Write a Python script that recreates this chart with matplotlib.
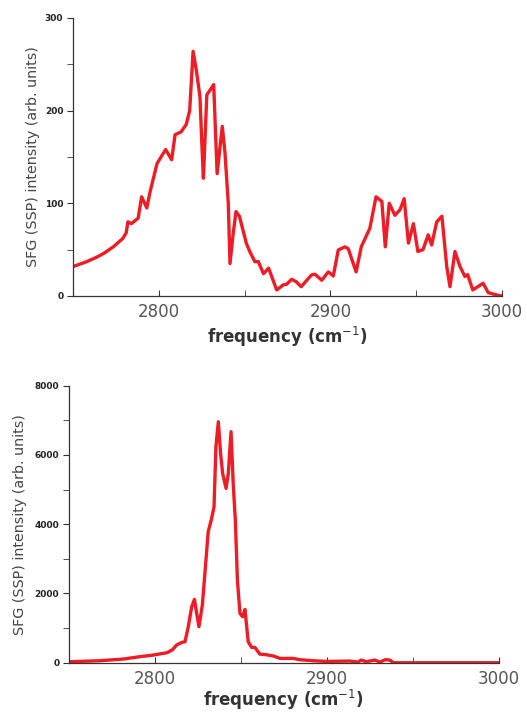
import numpy as np
import matplotlib; matplotlib.use("Agg")
import matplotlib.pyplot as plt
from matplotlib.ticker import MultipleLocator

# 上图: SSP SFG 光谱 (读图估值)
freq_a = [2750, 2758, 2764, 2768, 2773.5, 2779, 2781, 2782, 2784, 2788, 2790, 2793, 2795, 2799,
          2804, 2807.5, 2809.5, 2813, 2816, 2818, 2820, 2822, 2824, 2825, 2826, 2828, 2832,
          2834, 2837, 2838.6, 2840.5, 2841.5, 2843.4, 2845, 2847, 2851, 2853, 2856, 2858,
          2861, 2864, 2868.7, 2872.6, 2874.5, 2877.4, 2880, 2883, 2889, 2891, 2895, 2898.8,
          2901.7, 2904.6, 2908.5, 2910.4, 2915, 2918, 2923, 2926.6, 2930, 2932, 2934.3,
          2937.6, 2940.6, 2943, 2945.5, 2948.4, 2951, 2954, 2957, 2959, 2962, 2965, 2967.8,
          2969.7, 2972.6, 2975.5, 2978.4, 2980, 2983, 2989, 2992, 2997, 3000]
int_a = [31.7, 37, 42, 46, 53, 62, 68, 80, 78, 84, 107, 95, 113, 143,
         158, 147, 174, 177, 185, 200, 264, 242, 215, 168, 127, 217, 228,
         132, 183, 154, 100, 35, 68, 91, 86, 57, 48, 37, 37,
         24, 30, 6.5, 12, 12.6, 18, 15.5, 10, 22.7, 23.4, 17, 26,
         21.6, 49.6, 53, 51, 26, 53, 73, 107, 102, 53, 100,
         87, 93, 105, 57, 78, 48, 50, 66, 55, 80, 86, 32,
         10, 48, 32, 21, 23, 6.5, 13.7, 3.6, 1, 0]

# 下图
freq_b = [2750, 2768, 2781.6, 2791, 2799, 2807, 2810, 2812.6, 2815.6, 2817.5, 2819.4, 2821.4,
          2823, 2824.3, 2825.6, 2827.6, 2829.7, 2831, 2833, 2834.4, 2835.5, 2836.9, 2838.2,
          2839.4, 2841.4, 2842.7, 2844.3, 2845.6, 2846.8, 2848, 2849.5, 2851, 2852.4, 2854.3,
          2856.3, 2858.2, 2861, 2865, 2869, 2872.8, 2880.5, 2884.4, 2892, 2900, 2913.5,
          2918.3, 2920, 2923, 2928, 2931, 2934, 2936.8, 2938.7, 3000]
int_b = [29, 58, 106, 173, 221, 289, 366, 510, 587, 606, 1040, 1617,
         1830, 1425, 1040, 1665, 2965, 3783, 4168, 4505, 6238, 6960, 6046,
         5468, 5035, 5468, 6671, 5131, 4120, 2387, 1425, 1329, 1540, 606,
         443, 443, 250, 231, 193, 125, 125, 87, 58, 38, 48,
         19, 77, 29, 77, 19, 87, 77, 0, 0]

RED = "#ee1c25"
fig = plt.figure(figsize=(5.27, 7.13), dpi=100)
ax1 = fig.add_axes([0.1385, 0.5849, 0.814, 0.39])
ax2 = fig.add_axes([0.131, 0.0705, 0.815, 0.3885])

def style(ax, ymax, ymaj, ymin, ylabpad, xlabpad):
    ax.set_xlim(2750, 3000); ax.set_ylim(0, ymax)
    for s in ("top", "right"): ax.spines[s].set_visible(False)
    for s in ("left", "bottom"): ax.spines[s].set_color("#333333"); ax.spines[s].set_linewidth(0.9)
    ax.xaxis.set_major_locator(MultipleLocator(100)); ax.xaxis.set_minor_locator(MultipleLocator(50))
    ax.yaxis.set_major_locator(MultipleLocator(ymaj)); ax.yaxis.set_minor_locator(MultipleLocator(ymin))
    ax.tick_params(axis="x", which="both", direction="in", length=4, color="#333333",
                   labelsize=12, labelcolor="#555555", pad=5)
    ax.tick_params(axis="y", which="both", direction="out", length=4, color="#333333",
                   labelsize=6.5, labelcolor="#222222", pad=3)
    for t in ax.get_yticklabels(): t.set_fontweight("bold")
    ax.set_xlabel("frequency (cm$^{-1}$)", fontsize=12, fontweight="bold", color="#333333",
                  labelpad=xlabpad)
    ax.set_ylabel("SFG (SSP) intensity (arb. units)", fontsize=10.3, color="#444444", labelpad=ylabpad)

ax1.plot(freq_a, int_a, color=RED, lw=2.4, solid_joinstyle="round")
style(ax1, 300, 100, 50, 3.5, 3)
ax2.plot(freq_b, int_b, color=RED, lw=2.4, solid_joinstyle="round")
style(ax2, 8000, 2000, 1000, 5.5, 0.5)

fig.savefig("out.png", dpi=100)
